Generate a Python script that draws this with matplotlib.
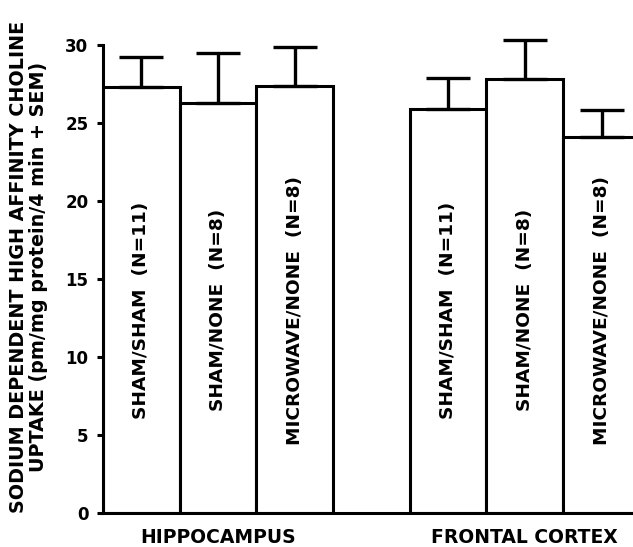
import matplotlib.pyplot as plt

# values (pmol/mg protein/4 min, mean and +SEM)
regions = ["HIPPOCAMPUS", "FRONTAL CORTEX"]
groups = ["SHAM/SHAM  (N=11)", "SHAM/NONE  (N=8)", "MICROWAVE/NONE  (N=8)"]
hippocampus_mean = [27.3, 26.3, 27.4]
hippocampus_sem = [1.9, 3.2, 2.5]
cortex_mean = [25.9, 27.8, 24.1]
cortex_sem = [2.0, 2.5, 1.7]

FONT = "DejaVu Sans"


def plot_region(ax, start, means, sems):
    xs = [start + i for i in range(len(means))]
    ax.bar(xs, means, width=1.0, color="white", edgecolor="black", linewidth=2.2)
    ax.errorbar(
        xs,
        means,
        yerr=[[0] * len(sems), sems],
        fmt="none",
        ecolor="black",
        elinewidth=2.4,
        capsize=16,
        capthick=2.4,
        clip_on=False,
    )
    for x, label in zip(xs, groups):
        ax.text(
            x, 13, label, rotation=90, ha="center", va="center",
            fontsize=13.3, fontweight="bold", family=FONT,
        )


fig = plt.figure(figsize=(6.33, 5.47), dpi=100)
ax = fig.add_axes([0.1627, 0.0622, 0.8373, 0.8556])

plot_region(ax, 0, hippocampus_mean, hippocampus_sem)
plot_region(ax, 4, cortex_mean, cortex_sem)

ax.set_xlim(-0.5, 6.41)
ax.set_ylim(0, 30)
ax.set_yticks([0, 5, 10, 15, 20, 25, 30])
ax.set_xticks([1, 5])
ax.set_xticklabels(regions)

for spine in ["top", "right"]:
    ax.spines[spine].set_visible(False)
ax.spines["left"].set_linewidth(2.2)
ax.spines["bottom"].set_linewidth(2.2)

ax.tick_params(axis="y", length=4.5, width=2.2, pad=6, labelsize=12)
ax.tick_params(axis="x", length=0, pad=10.5, labelsize=13.5)
for lab in ax.get_yticklabels() + ax.get_xticklabels():
    lab.set_fontweight("bold")
    lab.set_family(FONT)

ax.set_ylabel(
    "SODIUM DEPENDENT HIGH AFFINITY CHOLINE\nUPTAKE (pm/mg protein/4 min + SEM)",
    fontsize=13.8, fontweight="bold", family=FONT, linespacing=1.05,
)
ax.yaxis.set_label_coords(-0.104, 0.525)

fig.savefig("out.png", dpi=100)
